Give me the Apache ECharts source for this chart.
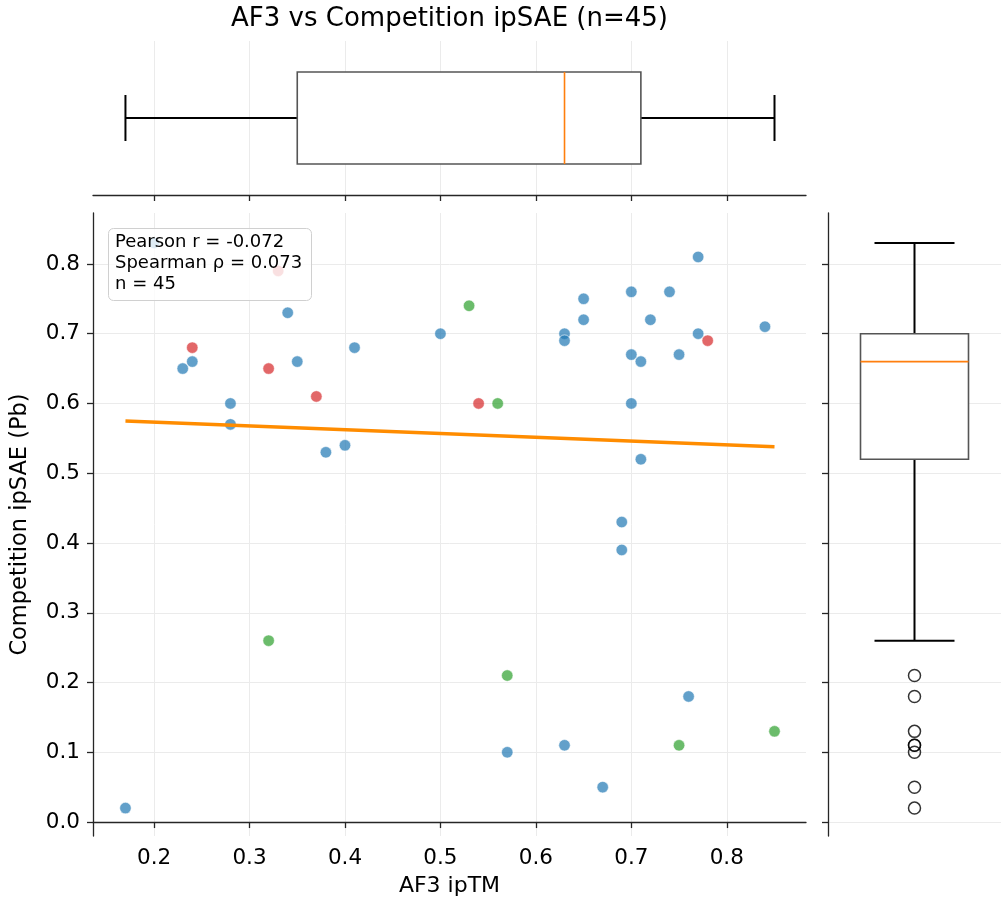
<!DOCTYPE html>
<html><head><meta charset="utf-8">
<script src="https://cdn.jsdelivr.net/npm/echarts@6/dist/echarts.min.js"></script>
<style>html,body{margin:0;padding:0;background:#fff}#c{width:1001px;height:910px}</style>
</head><body><div id="c"></div>
<script>
// ---- data ----
const xTicks = [0.2, 0.3, 0.4, 0.5, 0.6, 0.7, 0.8];
const yTicks = [0.0, 0.1, 0.2, 0.3, 0.4, 0.5, 0.6, 0.7, 0.8];
const bluePts = [
  [0.17,0.02],[0.23,0.65],[0.24,0.66],[0.28,0.60],[0.28,0.57],[0.34,0.73],[0.35,0.66],
  [0.38,0.53],[0.40,0.54],[0.41,0.68],[0.50,0.70],[0.63,0.70],[0.63,0.69],[0.65,0.75],
  [0.65,0.72],[0.70,0.76],[0.74,0.76],[0.77,0.81],[0.72,0.72],[0.70,0.67],[0.71,0.66],
  [0.75,0.67],[0.77,0.70],[0.84,0.71],[0.70,0.60],[0.71,0.52],[0.69,0.43],[0.69,0.39],
  [0.57,0.10],[0.63,0.11],[0.67,0.05],[0.76,0.18],[0.20,0.83]
];
const redPts = [[0.24,0.68],[0.32,0.65],[0.37,0.61],[0.54,0.60],[0.78,0.69],[0.33,0.79]];
const greenPts = [[0.53,0.74],[0.56,0.60],[0.32,0.26],[0.57,0.21],[0.75,0.11],[0.85,0.13]];
const fitLine = [[0.17,0.575],[0.85,0.538]];
const xBox = [0.17, 0.35, 0.63, 0.71, 0.85];      // min, q1, median, q3, max
const yBox = [0.26, 0.52, 0.66, 0.70, 0.83];
const yOutliers = [0.21, 0.18, 0.13, 0.11, 0.11, 0.10, 0.05, 0.02];
const statLines = ['Pearson r = -0.072', 'Spearman \u03c1 = 0.073', 'n = 45'];
const titleText = 'AF3 vs Competition ipSAE (n=45)';
const xName = 'AF3 ipTM';
const yName = 'Competition ipSAE (Pb)';

// ---- chart ----
const FONT = 'DejaVu Sans';
const X_MIN = 0.136, X_MAX = 0.883, Y_MIN = -0.02, Y_MAX = 0.873;
const chart = echarts.init(document.getElementById('c'), null, {renderer: 'canvas'});
const spine = {show: true, lineStyle: {color: '#262626', width: 1.3}};
const tick = (vals) => ({show: true, inside: false, length: 6, customValues: vals, lineStyle: {color: '#262626', width: 1.3}});
const split = {show: true, lineStyle: {color: '#ebebeb', width: 1}};
const fmt = v => Number(v).toFixed(1);

function renderHBox(params, api) {
  const v = [0,1,2,3,4].map(i => api.value(i));
  const yc = api.coord([v[2], 0.5])[1];
  const p = v.map(x => api.coord([x, 0.5])[0]);
  const hb = 46, hc = 23;
  const blk = {stroke: '#000', lineWidth: 2};
  return {type: 'group', children: [
    {type: 'line', shape: {x1: p[0], y1: yc, x2: p[1], y2: yc}, style: blk},
    {type: 'line', shape: {x1: p[3], y1: yc, x2: p[4], y2: yc}, style: blk},
    {type: 'line', shape: {x1: p[0], y1: yc - hc, x2: p[0], y2: yc + hc}, style: blk},
    {type: 'line', shape: {x1: p[4], y1: yc - hc, x2: p[4], y2: yc + hc}, style: blk},
    {type: 'rect', shape: {x: p[1], y: yc - hb, width: p[3] - p[1], height: 2 * hb}, style: {fill: '#fff', stroke: '#555', lineWidth: 1.6}},
    {type: 'line', shape: {x1: p[2], y1: yc - hb, x2: p[2], y2: yc + hb}, style: {stroke: '#ff7f0e', lineWidth: 1.6}}
  ]};
}
function renderVBox(params, api) {
  const v = [0,1,2,3,4].map(i => api.value(i));
  const xc = api.coord([0.5, v[2]])[0];
  const p = v.map(y => api.coord([0.5, y])[1]);
  const hb = 54, hc = 40;
  const blk = {stroke: '#000', lineWidth: 2};
  return {type: 'group', children: [
    {type: 'line', shape: {x1: xc, y1: p[0], x2: xc, y2: p[1]}, style: blk},
    {type: 'line', shape: {x1: xc, y1: p[3], x2: xc, y2: p[4]}, style: blk},
    {type: 'line', shape: {x1: xc - hc, y1: p[0], x2: xc + hc, y2: p[0]}, style: blk},
    {type: 'line', shape: {x1: xc - hc, y1: p[4], x2: xc + hc, y2: p[4]}, style: blk},
    {type: 'rect', shape: {x: xc - hb, y: p[3], width: 2 * hb, height: p[1] - p[3]}, style: {fill: '#fff', stroke: '#555', lineWidth: 1.6}},
    {type: 'line', shape: {x1: xc - hb, y1: p[2], x2: xc + hb, y2: p[2]}, style: {stroke: '#ff7f0e', lineWidth: 1.6}}
  ]};
}

const ptStyle = c => ({color: c, opacity: 0.7, borderColor: '#fff', borderWidth: 0.8});

const option = {
  backgroundColor: '#fff',
  animation: false,
  textStyle: {fontFamily: FONT},
  grid: [
    {left: 93, top: 213, width: 713, height: 623},
    {left: 93, top: 41, width: 713, height: 154},
    {left: 828, top: 213, width: 178, height: 623}
  ],
  xAxis: [
    {type: 'value', gridIndex: 0, min: X_MIN, max: X_MAX, axisLine: spine, axisTick: tick(xTicks), splitLine: split,
     axisLabel: {customValues: xTicks, formatter: fmt, fontSize: 21.5, color: '#000', fontFamily: FONT, margin: 11},
     name: xName, nameLocation: 'middle', nameGap: 39, nameTextStyle: {fontSize: 22, color: '#000', fontFamily: FONT}},
    {type: 'value', gridIndex: 1, min: X_MIN, max: X_MAX, axisLine: spine, axisTick: tick(xTicks), splitLine: split,
     axisLabel: {show: false, customValues: xTicks}},
    {type: 'value', gridIndex: 2, min: 0, max: 1, show: false}
  ],
  yAxis: [
    {type: 'value', gridIndex: 0, min: Y_MIN, max: Y_MAX, axisLine: spine, axisTick: tick(yTicks), splitLine: split,
     axisLabel: {customValues: yTicks, formatter: fmt, fontSize: 21.5, color: '#000', fontFamily: FONT, margin: 13},
     name: yName, nameLocation: 'middle', nameGap: 61, nameTextStyle: {fontSize: 22.5, color: '#000', fontFamily: FONT}},
    {type: 'value', gridIndex: 1, min: 0, max: 1, show: false},
    {type: 'value', gridIndex: 2, min: Y_MIN, max: Y_MAX, axisLine: spine, axisTick: tick(yTicks), splitLine: split,
     axisLabel: {show: false, customValues: yTicks}}
  ],
  series: [
    {type: 'scatter', xAxisIndex: 0, yAxisIndex: 0, data: bluePts, symbolSize: 11.5, itemStyle: ptStyle('#1f77b4'), z: 3},
    {type: 'scatter', xAxisIndex: 0, yAxisIndex: 0, data: redPts, symbolSize: 11.5, itemStyle: ptStyle('#d62728'), z: 3},
    {type: 'scatter', xAxisIndex: 0, yAxisIndex: 0, data: greenPts, symbolSize: 11.5, itemStyle: ptStyle('#2ca02c'), z: 3},
    {type: 'line', xAxisIndex: 0, yAxisIndex: 0, data: fitLine, showSymbol: false, symbol: 'none',
     lineStyle: {color: '#ff8c00', width: 3.5}, z: 4},
    {type: 'custom', xAxisIndex: 1, yAxisIndex: 1, data: [xBox], renderItem: renderHBox, z: 3},
    {type: 'custom', xAxisIndex: 2, yAxisIndex: 2, data: [yBox], renderItem: renderVBox, z: 3},
    {type: 'scatter', xAxisIndex: 2, yAxisIndex: 2, data: yOutliers.map(v => [0.5, v]), symbol: 'circle', symbolSize: 12,
     itemStyle: {color: 'rgba(0,0,0,0)', borderColor: '#000', borderWidth: 1.5}, z: 3}
  ],
  graphic: [
    {type: 'text', x: 449.5, y: 19, z: 100,
     style: {text: titleText, font: '26px "DejaVu Sans"', fill: '#000', textAlign: 'center', textVerticalAlign: 'middle', verticalAlign: 'middle'}},
    {type: 'rect', left: 108, top: 228, z: 100, shape: {width: 203, height: 72, r: 5},
     style: {fill: 'rgba(255,255,255,0.8)', stroke: '#d0d0d0', lineWidth: 1}},
    {type: 'text', left: 115, top: 232, z: 101,
     style: {text: statLines.join('\n'), font: '18px "DejaVu Sans"', lineHeight: 21, fill: '#000'}}
  ]
};
chart.setOption(option);
</script>
</body></html>
